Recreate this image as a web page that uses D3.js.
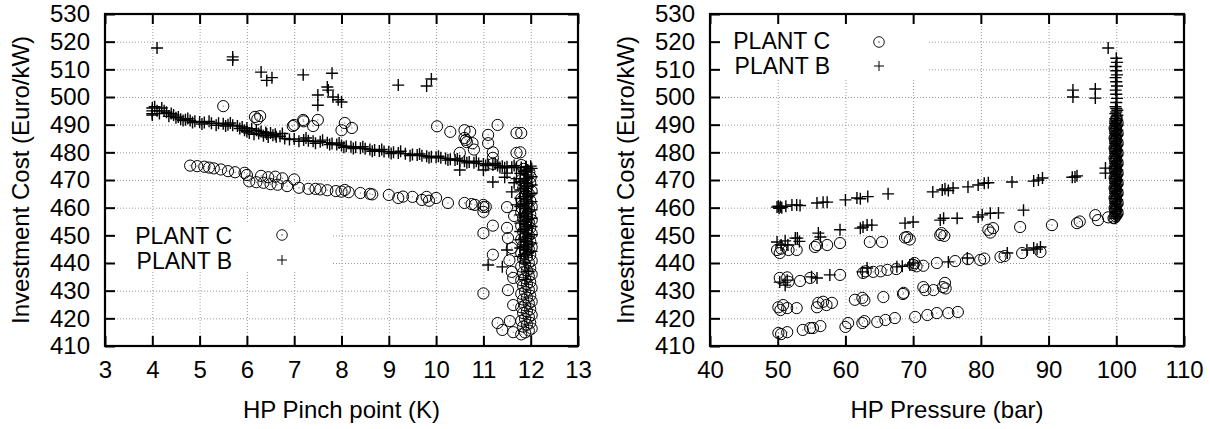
<!DOCTYPE html>
<html>
<head>
<meta charset="utf-8">
<script src="https://cdn.jsdelivr.net/npm/d3@7"></script>
<style>
  html, body { margin: 0; padding: 0; background: #fff; }
  svg { display: block; }
  text { font-family: "Liberation Sans", Arial, sans-serif; fill: #000; }
</style>
</head>
<body>
<svg id="chart" width="1210" height="429"></svg>
<script>
// ---------------- DATA ----------------
const costTicks = [410, 420, 430, 440, 450, 460, 470, 480, 490, 500, 510, 520, 530];
const pinchTicks = [3, 4, 5, 6, 7, 8, 9, 10, 11, 12, 13];
const pressureTicks = [40, 50, 60, 70, 80, 90, 100, 110];
const legendLabels = ["PLANT C", "PLANT B"];
const yTitle = "Investment Cost (Euro/kW)";
const xTitleLeft = "HP Pinch point (K)";
const xTitleRight = "HP Pressure (bar)";

// Left panel: PLANT C (circles) [pinch K, cost]
const pinchPlantC = [
  [4.8,475.2],[4.95,475],[5.1,474.8],[5.2,474.5],[5.3,474.2],[5.45,473.8],[5.6,473.2],[5.75,472.8],
  [5.95,472.6],[6.0,471.8],[6.05,469.5],[6.2,469.2],[6.3,471.5],[6.35,469],[6.45,471],[6.5,468.5],
  [6.6,471.2],[6.65,468.3],[6.75,470.6],[6.85,467.8],[7.0,470.2],[7.1,467.2],[7.3,466.8],[7.45,466.8],
  [7.55,466.6],[7.7,466.3],[7.88,466],[8.0,465.8],[8.07,466.4],[8.15,465.6],[8.4,465.3],[8.6,465],
  [8.65,464.8],[9.0,464.6],[9.2,463.5],[9.3,464],[9.5,463.9],[9.7,462.8],[9.8,463.9],[9.85,462.5],
  [10.0,463.5],[10.25,461.7],[10.6,461.7],[10.75,461.3],[10.82,461],[11.0,461],[11.05,460.3],
  [5.5,496.7],[6.17,492.8],[6.28,493.1],[6.22,492],[6.97,489.5],[7.0,489.9],[7.19,491.7],[7.2,491.2],
  [7.4,489.5],[7.5,491.7],[8.0,488],[8.07,490.6],[8.22,488.8],[10.02,489.4],[10.3,487.4],[10.6,488],
  [10.6,485.2],[10.63,484.5],[10.65,483.7],[10.72,487.4],[10.77,483.3],[10.5,479.8],[10.8,481],
  [11.1,486.3],[11.1,483.3],[11.2,480],[11.2,478],[11.2,475.8],[11.3,489.9],[11.7,487],[11.8,487],
  [11.7,479.8],[11.78,480],[11.8,475.4],
  [11.0,460.2],[11.0,458.5],[11.2,453.5],[11.0,450.8],[11.2,443],[11.0,429],[11.3,418.3],[11.4,415.8],
  [11.63,415],[11.5,460.2],[11.5,452.7],[11.52,449],[11.6,445.4],[11.6,436.8],[11.63,434.6],
  [11.63,424.8],[11.52,430.2],[11.56,419],[11.55,441],[11.65,457],
  [11.8,414.2],[11.88,414.9],[11.96,415.6],[12.02,416.3],[11.84,417],[11.92,417.7],[11.99,418.4],
  [11.8,419.1],[11.88,419.8],[11.96,420.5],[12.02,421.2],[11.84,421.9],[11.92,422.6],[11.99,423.3],
  [11.8,424],[11.88,424.7],[11.96,425.4],[12.02,426.1],[11.84,426.8],[11.92,427.5],[11.99,428.2],
  [11.8,428.9],[11.88,429.6],[11.96,430.3],[12.02,431],[11.84,431.7],[11.92,432.4],[11.99,433.1],
  [11.8,433.8],[11.88,434.5],[11.96,435.2],[12.02,435.9],[11.84,436.6],[11.92,437.3],[11.99,438],
  [11.8,438.7],[11.88,439.4],[11.96,440.1],[12.02,440.8],[11.84,441.5],[11.92,442.2],[11.99,442.9],
  [11.8,443.6],[11.88,444.3],[11.96,445],[12.02,445.7],[11.84,446.4],[11.92,447.1],[11.99,447.8],
  [11.8,448.5],[11.88,449.2],[11.96,449.9],[12.02,450.6],[11.84,451.3],[11.92,452],[11.99,452.7],
  [11.8,453.4],[11.88,454.1],[11.96,454.8],[12.02,455.5],[11.84,456.2],[11.92,456.9],[11.99,457.6],
  [11.8,458.3],[11.88,459],[11.96,459.7],[12.02,460.4],[11.84,461.1],[11.92,461.8],[11.99,462.5],
  [11.8,463.2],[11.88,464],[11.96,465],[12.02,466],[11.84,467],[11.92,468],[11.99,469],[11.8,470],
  [11.9,471.5],[11.97,473],[11.85,474],[12.0,471]
];

// Left panel: PLANT B (plus) [pinch K, cost]
const pinchPlantB = [
  [4.0,496],[4.0,495],[4.0,494],[4.0,493.5],[4.05,496.5],[4.1,495],[4.15,494],[4.2,496],[4.25,495],
  [4.3,494.5],[4.35,493],[4.4,494],[4.5,492.5],[4.6,492],[4.7,491.8],[4.8,491.5],[4.9,491.2],[5.0,491],
  [5.1,490.8],[5.25,490.5],[5.4,490.5],[5.5,490.3],[5.6,490],[5.7,489.8],[5.8,489.5],[5.9,489.2],
  [6.0,488.8],[6.0,487.5],[6.1,488.5],[6.15,486.5],[6.2,488],[6.3,487.5],[6.35,486],[6.4,487.2],
  [6.45,485.5],[6.5,487],[6.55,486.2],[6.6,486.5],[6.7,485.8],[6.8,485],[7.0,484.8],[7.2,484.5],
  [7.3,484.2],[7.4,484],[7.55,483.8],[7.7,483.5],[7.8,483.2],[7.9,482.8],[8.0,482.5],[8.1,482.2],
  [8.2,482],[8.3,481.8],[8.4,481.5],[8.5,481.3],[8.6,481],[8.7,480.8],[8.8,480.5],[8.9,480.3],
  [9.0,480.2],[9.1,480],[9.2,479.8],[9.35,479.5],[9.5,479.2],[9.6,479],[9.7,478.8],[9.8,478.6],
  [9.9,478.4],[10.0,478.2],[10.1,478],[10.2,477.8],[10.3,477.5],[10.4,477.2],[10.5,477],[10.6,476.8],
  [10.7,476.5],[10.8,476.2],[10.9,476],[11.0,475.8],[11.1,475.6],[11.2,475.4],[11.3,475.2],[11.4,475],
  [11.5,474.8],[11.6,474.6],[11.7,474.5],[11.8,474.5],[11.9,474.8],[12.0,475],
  [4.45,493.5],[4.55,492.8],[4.65,491.5],[4.75,492.2],[4.85,490.8],[5.05,490.2],[5.2,491.2],[5.35,489.8],
  [5.55,489.5],[5.65,490.6],[5.85,488.6],[5.95,488],[6.05,487],[6.25,486.8],[6.42,486.6],[6.62,485.6],
  [6.75,486.8],[6.9,484.6],[7.1,484],[7.25,485.2],[7.45,483.3],[7.6,484.4],[7.75,482.8],[7.95,483.4],
  [8.05,481.8],[8.25,481.4],[8.45,482],[8.65,480.4],[8.85,481],[9.05,479.6],[9.25,480.4],[9.45,478.8],
  [9.65,479.4],[9.85,478],[10.05,478.6],[10.25,477.2],[10.45,477.6],[10.65,476.2],[10.85,476.8],
  [11.05,475.2],[11.25,475.9],[11.45,474.4],[11.65,475.2],
  [4.1,517.7],[5.7,514.5],[5.7,513.4],[6.3,509],[6.42,506],[6.53,507],[7.19,508],[7.8,508.6],
  [7.7,503.6],[7.72,502.5],[7.5,500.7],[7.5,497],[7.82,500],[7.93,499],[8.0,498.2],[9.2,504.3],
  [9.8,504],[9.9,506.5],
  [10.5,473.6],[11.0,473.6],[11.2,469.3],[11.35,474.5],[11.5,472.5],[11.6,465.7],[11.1,439.3],
  [11.4,438.6],[11.5,444.7],[11.45,471],[11.65,469],[11.7,470.5],[11.7,461],
  [11.78,442.4],[11.86,443],[11.94,443.6],[12.02,444.2],[11.9,444.8],
  [11.78,445.4],[11.86,446],[11.94,446.6],[12.02,447.2],[11.9,447.8],
  [11.78,448.4],[11.86,449],[11.94,449.6],[12.02,450.2],[11.9,450.8],
  [11.78,451.4],[11.86,452],[11.94,452.6],[12.02,453.2],[11.9,453.8],
  [11.78,454.4],[11.86,455],[11.94,455.6],[12.02,456.2],[11.9,456.8],
  [11.78,457.4],[11.86,458],[11.94,458.6],[12.02,459.2],[11.9,459.8],
  [11.78,460.4],[11.86,461],[11.94,461.6],[12.02,462.2],[11.9,462.8],
  [11.78,463.4],[11.86,464],[11.94,464.6],[12.02,465.2],[11.9,465.8],
  [11.78,466.4],[11.86,467],[11.94,467.6],[12.02,468.2],[11.9,468.8],
  [11.78,469.4],[11.86,470],[11.94,470.6],[12.02,471.2],[11.9,471.8],
  [11.78,472.4],[11.86,473],[11.94,473.6],[12.02,474.2],[11.9,474.8],
  [11.88,440],[11.95,437],[11.9,434]
];

// Right panel: PLANT C (circles) [pressure bar, cost]
const pressurePlantC = [
  [50.1,414.7],[50.5,414.3],[51.4,415],[53.7,415.8],[54.8,416.5],[55.2,416.5],[56.3,417.2],[60,416.9],
  [60.4,418.3],[62.5,418.3],[62.8,419],[64.7,418.7],[65.9,419.4],[67.3,420.1],[70.3,420.5],[72.1,421.2],
  [73.5,421.9],[75.2,421.9],[76.6,422.3],
  [50.1,424],[50.4,423],[50.8,424.8],[51.4,423.7],[52.8,423.7],[55.8,424],[56,425.6],[56.7,426],
  [57.2,424.8],[58,425.6],[61.4,426.7],[62.5,427.4],[62.8,426.5],[65.6,427.7],[68.5,428.8],[68.6,429.2],
  [71.5,431.3],[71.8,430.2],[73,430.2],[74.4,431.3],[74.7,432.8],[74.8,430.8],
  [50.3,434.6],[51.4,434.8],[51.6,433.2],[53.3,433.5],[54.8,434.6],[59.2,435.7],[62.6,436.4],[63,437],
  [64.1,436.8],[65.2,437],[66.2,437.5],[67.5,437.8],[70,439.3],[70.2,440],[70.5,438.8],[71.5,439],
  [73.5,440],[76.2,440.7],[78.1,441.4],[79.9,441.1],[80.5,441.6],[82.9,442.2],[83.5,442.5],[86.1,443.6],
  [88.8,444],
  [49.9,444.7],[50.3,443.6],[50.5,445.2],[51.6,444.7],[52.8,444.7],[55.5,445.8],[55.8,446.5],[57.3,446.5],
  [59.2,447.2],[63.6,447.6],[65.4,447.6],[68.8,449.2],[69.1,449.4],[69.5,448.5],[74,450.1],[74.2,450.8],
  [74.6,449.8],[81.1,452],[81.4,451],[81.8,452.6],[85.8,453],[90.5,453.7],[94.2,454.4],[94.6,455],
  [96.9,457.3],[97.3,455.5],[99.6,456.2],[98.8,456.5],
  [99.75,456.3],[99.9,456.9],[100.05,457.5],[100.2,458.1],[99.85,458.7],[100,459.3],
  [99.75,459.9],[99.9,460.5],[100.05,461.1],[100.2,461.7],[99.85,462.3],[100,462.9],
  [99.75,463.5],[99.9,464.1],[100.05,464.7],[100.2,465.3],[99.85,465.9],[100,466.5],
  [99.75,467.1],[99.9,467.7],[100.05,468.3],[100.2,468.9],[99.85,469.5],[100,470.1],
  [99.75,470.7],[99.9,471.3],[100.05,471.9],[100.2,472.5],[99.85,473.1],[100,473.7],
  [99.75,474.3],[99.9,474.9],[100.05,475.5],[100.2,476.1],[99.85,476.7],[100,477.3],
  [99.75,477.9],[99.9,478.5],[100.05,479.1],[100.2,479.7],[99.85,480.3],[100,480.9],
  [99.75,481.5],[99.9,482.1],[100.05,482.7],[100.2,483.3],[99.85,483.9],[100,484.5],
  [99.75,485.1],[99.9,485.7],[100.05,486.3],[100.2,486.9],[99.85,487.5],[100,488.1],
  [99.75,488.7],[99.9,489.3],[100.05,489.9],[100.2,490.5],[99.85,491.1],[100,491.7],[100.05,492.3]
];

// Right panel: PLANT B (plus) [pressure bar, cost]
const pressurePlantB = [
  [49.9,460.2],[50.1,460.5],[50.2,459.8],[50.4,460.3],[50.6,460],[51.2,460.5],[52.1,461],[52.8,461],
  [53.3,460.8],[55.8,461.7],[56.7,462],[57.3,462],[60,462.8],[61.7,463.5],[62.2,463.2],[63.3,464],
  [66.3,465],[72.9,465.7],[74.3,466.4],[74.7,466.8],[75.2,466.2],[75.9,467.1],[78.1,467.5],[79.6,468.2],
  [80.5,468.8],[81.1,469],[84.6,469.3],[87.8,469.6],[88.5,470],[89.1,470.7],[93.5,471],[93.9,471.1],
  [94.2,471.5],[98.4,474.3],[98.4,472.5],
  [49.9,447.6],[50.5,446.5],[51.1,448],[51.5,446.5],[52.6,449],[52.9,449],[53.2,447.8],[56,450.8],
  [56.3,449.4],[59.2,452],[62.2,452.6],[62.6,453],[63.2,453.7],[63.9,453.7],[68.8,454.4],[70,454.8],
  [74,455.5],[74.5,456.2],[76.5,456.2],[79.6,456.6],[80.2,457.4],[81.4,458],[82.6,458.1],[86.3,459.1],
  [50.3,433.1],[51.1,432],[51.4,433.8],[55,435],[55.8,434.6],[57.7,435.7],[62.5,436.8],[63.2,438.2],
  [67.6,438.6],[68.4,438.8],[69.5,439.3],[70,440],[75.2,440.4],[78,441.8],[83.9,443.6],[86.8,444.7],
  [87.8,445.4],[88.3,445],[88.8,445.8],
  [93.6,502.5],[93.6,500],[96.9,502.9],[96.9,499.6],[98.8,517.7],
  [100,514],[100.1,512.5],[99.9,511],[100,509.5],[100.1,508],[99.9,507],[100,505.5],[100.1,504],
  [99.9,502.5],[100,501],[100.1,499.5],[100,498],[99.9,496.5],
  [99.85,456.2],[100,456.8],[100.15,457.4],[99.85,458],[100,458.6],[100.15,459.2],
  [99.85,459.8],[100,460.4],[100.15,461],[99.85,461.6],[100,462.2],[100.15,462.8],
  [99.85,463.4],[100,464],[100.15,464.6],[99.85,465.2],[100,465.8],[100.15,466.4],
  [99.85,467],[100,467.6],[100.15,468.2],[99.85,468.8],[100,469.4],[100.15,470],
  [99.85,470.6],[100,471.2],[100.15,471.8],[99.85,472.4],[100,473],[100.15,473.6],
  [99.85,474.2],[100,474.8],[100.15,475.4],[99.85,476],[100,476.6],[100.15,477.2],
  [99.85,477.8],[100,478.4],[100.15,479],[99.85,479.6],[100,480.2],[100.15,480.8],
  [99.85,481.4],[100,482],[100.15,482.6],[99.85,483.2],[100,483.8],[100.15,484.4],
  [99.85,485],[100,485.6],[100.15,486.2],[99.85,486.8],[100,487.4],[100.15,488],
  [99.85,488.6],[100,489.2],[100.15,489.8],[99.85,490.4],[100,491],[100.15,491.6],
  [99.85,492.2],[100,492.8],[100.15,493.4],[99.85,494],[100,494.6],[100.15,495.2],[100,495.8]
];

// ---------------- DRAW ----------------
const svg = d3.select("#chart");
svg.append("rect").attr("width", 1210).attr("height", 429).attr("fill", "#fff");

const FONT = 24;
const LEG_FONT = 23;

function panel(opts) {
  const { x0, x1, y0, y1, xTicks, dataC, dataB, xTitle, yTitleX, legend } = opts;
  const x = d3.scaleLinear().domain([xTicks[0], xTicks[xTicks.length - 1]]).range([x0, x1]);
  const y = d3.scaleLinear().domain([costTicks[0], costTicks[costTicks.length - 1]]).range([y1, y0]);
  const g = svg.append("g");

  // grid
  const grid = g.append("g").attr("stroke", "#999").attr("stroke-width", 1).attr("stroke-dasharray", "1,2");
  grid.selectAll("line.gx").data(xTicks.slice(1, -1)).join("line")
    .attr("x1", d => x(d) + 0.5).attr("x2", d => x(d) + 0.5).attr("y1", y0).attr("y2", y1);
  grid.selectAll("line.gy").data(costTicks.slice(1, -1)).join("line")
    .attr("y1", d => y(d) + 0.5).attr("y2", d => y(d) + 0.5).attr("x1", x0).attr("x2", x1);

  // legend background box
  g.append("rect").attr("x", legend.box[0]).attr("y", legend.box[1])
    .attr("width", legend.box[2] - legend.box[0]).attr("height", legend.box[3] - legend.box[1])
    .attr("fill", "#fff");

  // data: circles
  const cg = g.append("g");
  cg.selectAll("circle.c").data(dataC).join("circle")
    .attr("cx", d => x(d[0])).attr("cy", d => y(d[1])).attr("r", 5.6)
    .attr("fill", "none").attr("stroke", "#000").attr("stroke-width", 1);
  cg.selectAll("rect.dot").data(dataC).join("rect")
    .attr("x", d => x(d[0]) - 0.5).attr("y", d => y(d[1]) - 0.5).attr("width", 1).attr("height", 1)
    .attr("fill", "#555");
  // data: plus
  g.append("g").selectAll("path").data(dataB).join("path")
    .attr("d", d => `M${x(d[0]) - 6},${y(d[1])}H${x(d[0]) + 6}M${x(d[0])},${y(d[1]) - 6}V${y(d[1]) + 6}`)
    .attr("stroke", "#000").attr("stroke-width", 1.4).attr("fill", "none");

  // axes (inward ticks)
  const axB = g.append("g").attr("transform", `translate(0,${y1})`)
    .call(d3.axisBottom(x).tickValues(xTicks).tickSize(-10).tickPadding(15).tickFormat(d3.format("d")));
  const axT = g.append("g").attr("transform", `translate(0,${y0})`)
    .call(d3.axisTop(x).tickValues(xTicks).tickSize(-10).tickFormat(""));
  const axL = g.append("g").attr("transform", `translate(${x0},0)`)
    .call(d3.axisLeft(y).tickValues(costTicks).tickSize(-10).tickPadding(15).tickFormat(d3.format("d")));
  const axR = g.append("g").attr("transform", `translate(${x1},0)`)
    .call(d3.axisRight(y).tickValues(costTicks).tickSize(-10).tickFormat(""));
  [axB, axT, axL, axR].forEach(a => {
    a.select(".domain").remove();
    a.selectAll(".tick line").attr("stroke", "#000").attr("stroke-width", 2);
    a.selectAll("text").attr("font-size", FONT).attr("font-family", "Liberation Sans, Arial, sans-serif").attr("fill", "#000");
  });

  // border
  g.append("rect").attr("x", x0).attr("y", y0).attr("width", x1 - x0).attr("height", y1 - y0)
    .attr("fill", "none").attr("stroke", "#000").attr("stroke-width", 2.2);

  // titles
  g.append("text").attr("x", (x0 + x1) / 2).attr("y", 418).attr("text-anchor", "middle")
    .attr("font-size", FONT).text(xTitle);
  g.append("text").attr("transform", `translate(${yTitleX},${(y0 + y1) / 2}) rotate(-90)`)
    .attr("text-anchor", "middle").attr("font-size", FONT).text(yTitle);

  // legend
  const lg = g.append("g");
  legend.rows.forEach((r, i) => {
    lg.append("text").attr("x", legend.textX).attr("y", r.base).attr("text-anchor", "end")
      .attr("font-size", LEG_FONT).text(legendLabels[i]);
    if (i === 0) {
      lg.append("circle").attr("cx", legend.symX).attr("cy", r.sym).attr("r", 5.3)
        .attr("fill", "none").attr("stroke", "#000").attr("stroke-width", 0.9);
      lg.append("rect").attr("x", legend.symX - 0.6).attr("y", r.sym - 0.6).attr("width", 1.2).attr("height", 1.2).attr("fill", "#333");
    } else {
      lg.append("path").attr("d", `M${legend.symX - 5},${r.sym}H${legend.symX + 5}M${legend.symX},${r.sym - 5}V${r.sym + 5}`)
        .attr("stroke", "#000").attr("stroke-width", 1);
    }
  });
}

panel({
  x0: 105, x1: 578, y0: 14, y1: 346, xTicks: pinchTicks,
  dataC: pinchPlantC, dataB: pinchPlantB, xTitle: xTitleLeft, yTitleX: 29,
  legend: { box: [106, 223, 331, 272], textX: 232, symX: 282,
            rows: [{ base: 244, sym: 235 }, { base: 269, sym: 260 }] }
});

panel({
  x0: 710, x1: 1184, y0: 14, y1: 346, xTicks: pressureTicks,
  dataC: pressurePlantC, dataB: pressurePlantB, xTitle: xTitleRight, yTitleX: 634,
  legend: { box: [711, 15, 929, 78], textX: 830, symX: 879,
            rows: [{ base: 49, sym: 42 }, { base: 74, sym: 66 }] }
});
</script>
</body>
</html>
